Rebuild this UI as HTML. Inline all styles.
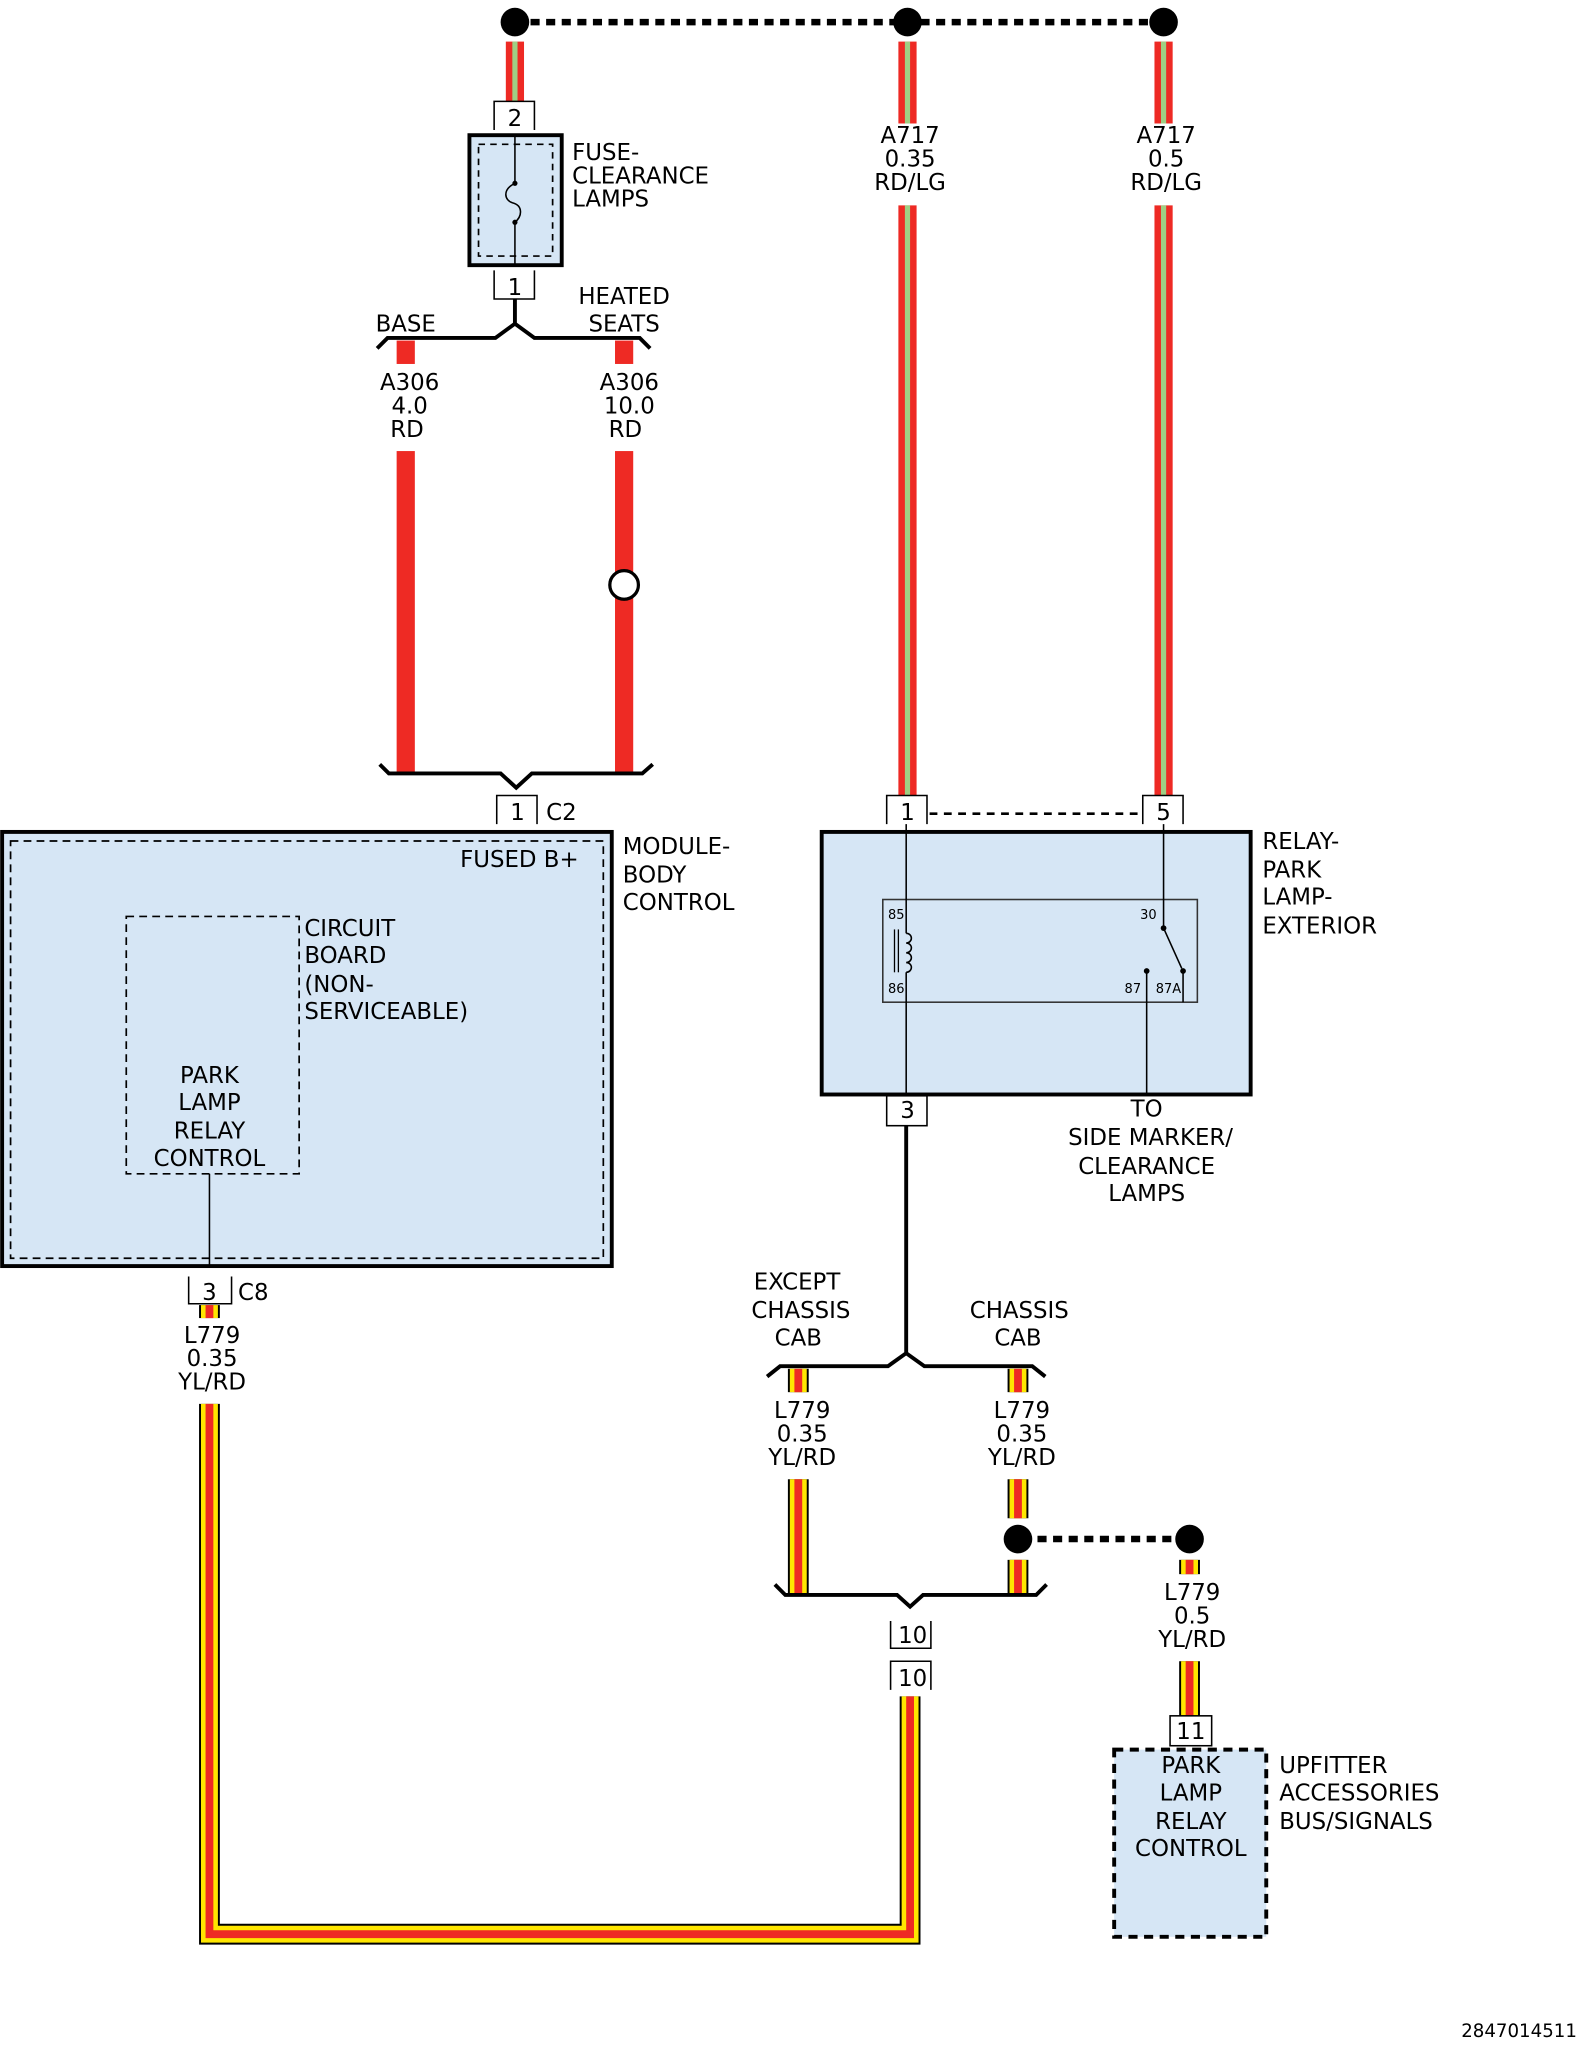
<!DOCTYPE html>
<html><head><meta charset="utf-8"><style>
html,body{margin:0;padding:0;background:#fff}
svg{display:block}
text{font-family:"DejaVu Sans","Liberation Sans",sans-serif;font-size:17.6px;fill:#000}
.s{font-size:10px}
</style></head><body>
<svg width="1581" height="2046" viewBox="0 0 1216 1574" xmlns="http://www.w3.org/2000/svg">
<!-- top dotted bus -->
<line x1="396" y1="17" x2="895" y2="17" stroke="#000" stroke-width="5" stroke-dasharray="7,5"/>
<circle cx="396" cy="17" r="11"/><circle cx="698" cy="17" r="11"/><circle cx="895" cy="17" r="11"/>
<g>
<rect x="389" y="32" width="14" height="46" fill="#ee2a24"/><rect x="394" y="32" width="4" height="46" fill="#9fcf84"/>
<rect x="691" y="32" width="14" height="63" fill="#ee2a24"/><rect x="696" y="32" width="4" height="63" fill="#9fcf84"/>
<rect x="691" y="158" width="14" height="454" fill="#ee2a24"/><rect x="696" y="158" width="4" height="454" fill="#9fcf84"/>
<rect x="888" y="32" width="14" height="63" fill="#ee2a24"/><rect x="893" y="32" width="4" height="63" fill="#9fcf84"/>
<rect x="888" y="158" width="14" height="454" fill="#ee2a24"/><rect x="893" y="158" width="4" height="454" fill="#9fcf84"/>
</g>
<g text-anchor="middle">
<text x="700" y="110">A717</text><text x="700" y="128">0.35</text><text x="700" y="146">RD/LG</text>
<text x="897" y="110">A717</text><text x="897" y="128">0.5</text><text x="897" y="146">RD/LG</text>
</g>
<!-- Fuse -->
<path d="M380 100 V78 H411 V100" fill="none" stroke="#000" stroke-width="1.2"/>
<text x="396" y="97" text-anchor="middle">2</text>
<rect x="361" y="104" width="71" height="100" fill="#d6e6f5" stroke="#000" stroke-width="3"/>
<rect x="368" y="111" width="57" height="86" fill="none" stroke="#000" stroke-width="1.3" stroke-dasharray="5,4"/>
<line x1="396" y1="104" x2="396" y2="141" stroke="#000" stroke-width="1.2"/>
<line x1="396" y1="171" x2="396" y2="204" stroke="#000" stroke-width="1.2"/>
<path d="M396 141 C386 146,388 154,394 156 C402 158,402 166,396 171" fill="none" stroke="#000" stroke-width="1.2"/>
<circle cx="396" cy="141" r="2"/><circle cx="396" cy="171" r="2"/>
<text x="440" y="123">FUSE-</text><text x="440" y="141">CLEARANCE</text><text x="440" y="159">LAMPS</text>
<path d="M380 208 V230 H411 V208" fill="none" stroke="#000" stroke-width="1.2"/>
<text x="396" y="227" text-anchor="middle">1</text>
<path d="M396 230 V249 L381 260 H298 L290 268 M396 249 L411 260 H492 L500 268" fill="none" stroke="#000" stroke-width="3"/>
<text x="312" y="255" text-anchor="middle">BASE</text>
<text x="480" y="234" text-anchor="middle">HEATED</text><text x="480" y="255" text-anchor="middle">SEATS</text>
<rect x="305" y="262" width="14" height="18" fill="#ee2a24"/>
<rect x="473" y="262" width="14" height="18" fill="#ee2a24"/>
<g text-anchor="middle">
<text x="315" y="300">A306</text><text x="315" y="318">4.0</text><text x="313" y="336">RD</text>
<text x="484" y="300">A306</text><text x="484" y="318">10.0</text><text x="481" y="336">RD</text>
</g>
<rect x="305" y="347" width="14" height="248" fill="#ee2a24"/>
<rect x="473" y="347" width="14" height="248" fill="#ee2a24"/>
<circle cx="480" cy="450" r="11" fill="#fff" stroke="#000" stroke-width="2.5"/>
<path d="M292 588 L299 595 H385 L397 606 L409 595 H494 L502 588" fill="none" stroke="#000" stroke-width="3"/>
<path d="M382 634 V612 H413 V634" fill="none" stroke="#000" stroke-width="1.2"/>
<text x="398" y="631" text-anchor="middle">1</text><text x="420" y="631">C2</text>
<!-- Module -->
<rect x="1.5" y="640" width="469" height="334" fill="#d6e6f5" stroke="#000" stroke-width="3"/>
<rect x="8" y="647" width="456" height="321" fill="none" stroke="#000" stroke-width="1.3" stroke-dasharray="6,4"/>
<text x="445" y="667" text-anchor="end">FUSED B+</text>
<rect x="97" y="705" width="133" height="198" fill="none" stroke="#000" stroke-width="1.3" stroke-dasharray="6,4"/>
<text x="234" y="720">CIRCUIT</text><text x="234" y="741">BOARD</text><text x="234" y="763">(NON-</text><text x="234" y="784">SERVICEABLE)</text>
<g text-anchor="middle"><text x="161" y="833">PARK</text><text x="161" y="854">LAMP</text><text x="161" y="876">RELAY</text><text x="161" y="897">CONTROL</text></g>
<line x1="161" y1="903" x2="161" y2="974" stroke="#000" stroke-width="1.2"/>
<text x="479" y="657">MODULE-</text><text x="479" y="679">BODY</text><text x="479" y="700">CONTROL</text>
<path d="M145 982 V1003 H178 V982" fill="none" stroke="#000" stroke-width="1.2"/>
<text x="161" y="1000" text-anchor="middle">3</text><text x="183" y="1000">C8</text>
<g fill="none">
<path d="M161 1080 V1488 H700 V1305" stroke="#000" stroke-width="16"/>
<path d="M161 1080 V1488 H700 V1305" stroke="#ffe600" stroke-width="13"/>
<path d="M161 1080 V1488 H700 V1305" stroke="#ee2a24" stroke-width="6"/>
</g>
<g>
<rect x="153" y="1004" width="16" height="10" fill="#000"/><rect x="154.5" y="1004" width="13" height="10" fill="#ffe600"/><rect x="158" y="1004" width="6" height="10" fill="#ee2a24"/>
</g>
<g text-anchor="middle"><text x="163" y="1033">L779</text><text x="163" y="1051">0.35</text><text x="163" y="1069">YL/RD</text></g>
<!-- Relay -->
<path d="M682 634 V612 H713 V634" fill="none" stroke="#000" stroke-width="1.2"/>
<text x="698" y="631" text-anchor="middle">1</text>
<path d="M879 634 V612 H910 V634" fill="none" stroke="#000" stroke-width="1.2"/>
<text x="895" y="631" text-anchor="middle">5</text>
<line x1="715" y1="626" x2="878" y2="626" stroke="#000" stroke-width="2" stroke-dasharray="6,5"/>
<rect x="632" y="640" width="330" height="202" fill="#d6e6f5" stroke="#000" stroke-width="3"/>
<rect x="679" y="692" width="242" height="79" fill="none" stroke="#333" stroke-width="1.2"/>
<line x1="697" y1="634" x2="697" y2="718" stroke="#000" stroke-width="1.2"/>
<line x1="697" y1="748" x2="697" y2="842" stroke="#000" stroke-width="1.2"/>
<path d="M697 718 a4 3.75 0 0 1 0 7.5 a4 3.75 0 0 1 0 7.5 a4 3.75 0 0 1 0 7.5 a4 3.75 0 0 1 0 7.5" fill="none" stroke="#000" stroke-width="1.2"/>
<line x1="688" y1="715" x2="688" y2="748" stroke="#000" stroke-width="1"/><line x1="691" y1="715" x2="691" y2="748" stroke="#000" stroke-width="1"/>
<line x1="895" y1="634" x2="895" y2="714" stroke="#000" stroke-width="1.2"/>
<line x1="895" y1="714" x2="909" y2="745" stroke="#000" stroke-width="1.2"/>
<circle cx="895" cy="714" r="2.2"/><circle cx="910" cy="747" r="2.2"/><circle cx="882" cy="747" r="2.2"/>
<line x1="910" y1="747" x2="910" y2="771" stroke="#000" stroke-width="1.2"/>
<line x1="882" y1="747" x2="882" y2="842" stroke="#000" stroke-width="1.2"/>
<text class="s" x="683" y="707">85</text><text class="s" x="683" y="764">86</text>
<text class="s" x="877" y="707">30</text><text class="s" x="865" y="764">87</text><text class="s" x="889" y="764">87A</text>
<text x="971" y="653">RELAY-</text><text x="971" y="675">PARK</text><text x="971" y="696">LAMP-</text><text x="971" y="718">EXTERIOR</text>
<rect x="682" y="843" width="31" height="23" fill="#fff" stroke="#000" stroke-width="1.2"/>
<text x="698" y="860" text-anchor="middle">3</text>
<g text-anchor="middle"><text x="882" y="859">TO</text><text x="885" y="881">SIDE MARKER/</text><text x="882" y="903">CLEARANCE</text><text x="882" y="924">LAMPS</text></g>
<path d="M697 866 V1041 L683 1051 H600 L590 1059 M697 1041 L711 1051 H794 L804 1059" fill="none" stroke="#000" stroke-width="3"/>
<g text-anchor="middle"><text x="613" y="992">EXCEPT</text><text x="616" y="1014">CHASSIS</text><text x="614" y="1035">CAB</text>
<text x="784" y="1014">CHASSIS</text><text x="783" y="1035">CAB</text></g>
<g>
<rect x="606" y="1053" width="16" height="18" fill="#000"/><rect x="607.5" y="1053" width="13" height="18" fill="#ffe600"/><rect x="611" y="1053" width="6" height="18" fill="#ee2a24"/>
<rect x="775" y="1053" width="16" height="18" fill="#000"/><rect x="776.5" y="1053" width="13" height="18" fill="#ffe600"/><rect x="780" y="1053" width="6" height="18" fill="#ee2a24"/>
<rect x="606" y="1138" width="16" height="88" fill="#000"/><rect x="607.5" y="1138" width="13" height="88" fill="#ffe600"/><rect x="611" y="1138" width="6" height="88" fill="#ee2a24"/>
<rect x="775" y="1138" width="16" height="30" fill="#000"/><rect x="776.5" y="1138" width="13" height="30" fill="#ffe600"/><rect x="780" y="1138" width="6" height="30" fill="#ee2a24"/>
<rect x="775" y="1200" width="16" height="26" fill="#000"/><rect x="776.5" y="1200" width="13" height="26" fill="#ffe600"/><rect x="780" y="1200" width="6" height="26" fill="#ee2a24"/>
<rect x="907" y="1200" width="16" height="11" fill="#000"/><rect x="908.5" y="1200" width="13" height="11" fill="#ffe600"/><rect x="912" y="1200" width="6" height="11" fill="#ee2a24"/>
<rect x="907" y="1278" width="16" height="42" fill="#000"/><rect x="908.5" y="1278" width="13" height="42" fill="#ffe600"/><rect x="912" y="1278" width="6" height="42" fill="#ee2a24"/>
</g>
<g text-anchor="middle">
<text x="617" y="1091">L779</text><text x="617" y="1109">0.35</text><text x="617" y="1127">YL/RD</text>
<text x="786" y="1091">L779</text><text x="786" y="1109">0.35</text><text x="786" y="1127">YL/RD</text>
<text x="917" y="1231">L779</text><text x="917" y="1249">0.5</text><text x="917" y="1267">YL/RD</text>
</g>
<line x1="798" y1="1184" x2="905" y2="1184" stroke="#000" stroke-width="5" stroke-dasharray="7,5"/>
<circle cx="783" cy="1184" r="13" fill="#fff"/><circle cx="783" cy="1184" r="11"/>
<circle cx="915" cy="1184" r="11"/>
<path d="M596 1219 L604 1227 H690 L700 1236 L710 1227 H797 L805 1219" fill="none" stroke="#000" stroke-width="3"/>
<path d="M685 1247 V1268 H716 V1247" fill="none" stroke="#000" stroke-width="1.2"/>
<text x="702" y="1264" text-anchor="middle">10</text>
<path d="M685 1300 V1278 H716 V1300" fill="none" stroke="#000" stroke-width="1.2"/>
<text x="702" y="1297" text-anchor="middle">10</text>
<rect x="900" y="1320" width="32" height="23" fill="#fff" stroke="#000" stroke-width="1.2"/>
<text x="916" y="1338" text-anchor="middle">11</text>
<rect x="857" y="1346" width="117" height="144" fill="#d6e6f5" stroke="#000" stroke-width="3" stroke-dasharray="7,5"/>
<g text-anchor="middle"><text x="916" y="1364">PARK</text><text x="916" y="1385">LAMP</text><text x="916" y="1407">RELAY</text><text x="916" y="1428">CONTROL</text></g>
<text x="984" y="1364">UPFITTER</text><text x="984" y="1385">ACCESSORIES</text><text x="984" y="1407">BUS/SIGNALS</text>
<text x="1213" y="1567" text-anchor="end" style="font-size:14px">2847014511</text>
</svg>
</body></html>
